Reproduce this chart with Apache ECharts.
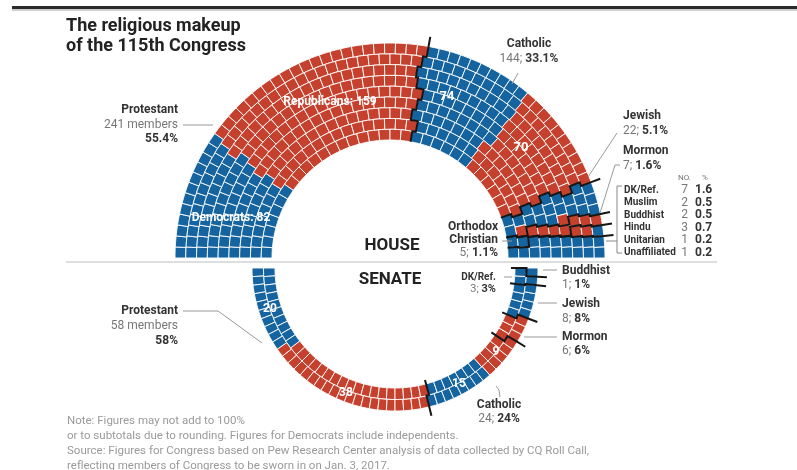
<!DOCTYPE html>
<html><head><meta charset="utf-8">
<script src="https://cdn.jsdelivr.net/npm/echarts@6/dist/echarts.min.js"></script>
<style>html,body{margin:0;padding:0;background:#fff}#c{width:797px;height:470px}</style>
</head><body><div id="c"></div><script>
// ---------- DATA ----------
const houseReligion = ['Protestant','Protestant','Catholic','Catholic','Jewish','Jewish','Mormon','Orthodox Christian','Orthodox Christian','Other'];
const houseParty    = ['D','R','D','R','D','R','R','R','D','D'];
const houseSeats    = [82,159,74,70,20,2,7,2,3,16];

const senateReligion = ['Protestant','Protestant','Catholic','Catholic','Mormon','Jewish','DK/Ref.','Buddhist'];
const senateParty    = ['D','R','D','R','R','D','D','D'];
const senateSeats    = [20,38,15,9,6,8,3,1];

const otherNames  = ['DK/Ref.','Muslim','Buddhist','Hindu','Unitarian','Unaffiliated'];
const otherCounts = ['7','2','2','3','1','1'];
const otherPct    = ['1.6','0.5','0.5','0.7','0.2','0.2'];

// ---------- LAYOUT ----------
const houseRingSeats  = [36,39,42,45,48,51,55,58,61];
const senateRingSeats = [48,52];
const BLUE = '#1564a0', RED = '#c6412d';

function layout(ringSeats, segSeats){
  const seats=[];
  ringSeats.forEach((n,ring)=>{for(let j=0;j<n;j++) seats.push({ring,j,n,mid:(j+0.5)/n});});
  seats.sort((a,b)=>a.mid-b.mid||a.ring-b.ring);
  let k=0; segSeats.forEach((c,s)=>{for(let i=0;i<c;i++) seats[k++].seg=s;});
  return seats;
}
function cells(seats, party){
  return seats.map(s=>[s.ring, 180*s.j/s.n, 180*(s.j+1)/s.n, party[s.seg]==='R'?1:0]);
}
function boundaries(seats, ringSeats, segSeats, religion, extOut, extIn){
  const paths=[]; let cum=0;
  const N=ringSeats.length;
  for(let s=0;s<segSeats.length-1;s++){
    cum+=segSeats[s];
    if(religion[s]===religion[s+1]) continue;
    const k=new Array(N).fill(0);
    for(let i=0;i<cum;i++) k[seats[i].ring]++;
    const a=k.map((v,i)=>180*v/ringSeats[i]);
    const pts=[[N+extOut,a[N-1]]];
    for(let i=N-1;i>=0;i--){
      pts.push([i+1,a[i]]); pts.push([i,a[i]]);
      if(i>0){ for(let t=1;t<=6;t++) pts.push([i, a[i]+(a[i-1]-a[i])*t/6]); }
    }
    pts.push([-extIn,a[0]]);
    paths.push(pts);
  }
  return paths;
}
const hSeats = layout(houseRingSeats, houseSeats);
const sSeats = layout(senateRingSeats, senateSeats);
const hCells = cells(hSeats, houseParty);
const sCells = cells(sSeats, senateParty);
const hPaths = boundaries(hSeats, houseRingSeats, houseSeats, houseReligion, 0.9, 0);
const sPaths = boundaries(sSeats, senateRingSeats, senateSeats, senateReligion, 0.8, 0.35);

function cellItem(params, api){
  const ring=api.value(0), a0=api.value(1), a1=api.value(2), p=api.value(3);
  const pts=[], st=4;
  for(let s=0;s<=st;s++) pts.push(api.coord([ring, a0+(a1-a0)*s/st]));
  for(let s=st;s>=0;s--) pts.push(api.coord([ring+1, a0+(a1-a0)*s/st]));
  return {type:'polygon', shape:{points:pts}, style:{fill:p?RED:BLUE, stroke:'#fff', lineWidth:0.9}};
}
function lineItemFor(paths){
  return function(params, api){
    const pts=paths[api.value(2)].map(p=>api.coord(p));
    return {type:'polyline', shape:{points:pts}, style:{stroke:'#151515', lineWidth:2, fill:null}};
  };
}

// ---------- TEXT ----------
const F='Roboto, "Liberation Sans", sans-serif';
function T(x,y,text,opt){
  opt=opt||{};
  const size=opt.size||12, w=opt.bold?'bold ':'';
  return {type:'text', x, y, silent:true, zlevel:1, z:20, style:{text, font:w+size+'px '+F, fill:opt.color||'#333',
    align:opt.align||'left', verticalAlign:'middle', textAlign:opt.align||'left', textVerticalAlign:'middle', rich:opt.rich}};
}
function R(x,y,a,b,align){
  return T(x,y,'{a|'+a+'}{b|'+b+'}',{align, rich:{a:{font:'12px '+F, fill:'#777'}, b:{font:'bold 12px '+F, fill:'#333'}}});
}
function L(points,color){return {type:'polyline', silent:true, zlevel:1, z:15, shape:{points}, style:{stroke:color||'#999', lineWidth:1, fill:null}};}

const g=[];
g.push({type:'rect', shape:{x:12,y:6,width:785,height:3}, style:{fill:'#2b2b2b'}, silent:true});
g.push({type:'rect', shape:{x:12,y:9,width:785,height:2}, style:{fill:'#cfcfcf'}, silent:true});
g.push(L([[66,262],[717,262]],'#bdbdbd'));
g.push(T(66,26,'The religious makeup',{bold:true,size:18,color:'#222'}));
g.push(T(66,46,'of the 115th Congress',{bold:true,size:18,color:'#222'}));
// House labels
g.push(T(178,110,'Protestant',{bold:true,align:'right'}));
g.push(T(178,125,'241 members',{align:'right',color:'#777'}));
g.push(T(178,139,'55.4%',{bold:true,align:'right'}));
g.push(L([[183,125],[213,125]]));
g.push(T(330,102,'Republicans: 159',{bold:true,color:'#fff',align:'center'}));
g.push(T(231,218,'Democrats: 82',{bold:true,color:'#fff',align:'center'}));
g.push(T(447,97,'74',{bold:true,size:13,color:'#fff',align:'center'}));
g.push(T(521,148,'70',{bold:true,size:13,color:'#fff',align:'center'}));
g.push(T(529,44,'Catholic',{bold:true,align:'center'}));
g.push(R(529,59,'144; ','33.1%','center'));
g.push(L([[518,73],[512,84]]));
g.push(T(623,116,'Jewish',{bold:true}));
g.push(R(623,131,'22; ','5.1%','left'));
g.push(L([[617,133],[588,177]]));
g.push(T(623,151,'Mormon',{bold:true}));
g.push(R(623,166,'7; ','1.6%','left'));
g.push(L([[620,165],[615,165],[600,213]]));
g.push(T(678,178,'NO.',{size:8,color:'#777'}));
g.push(T(702,178,'%',{size:8,color:'#777'}));
const rowY=[190,202.5,215,227.5,240,252.5];
otherNames.forEach((n,i)=>{
  g.push(T(624,rowY[i],n,{bold:true,size:10}));
  g.push(T(688,rowY[i],otherCounts[i],{align:'right',color:'#777'}));
  g.push(T(695,rowY[i],otherPct[i],{bold:true}));
});
g.push(L([[622,186],[617,186],[617,253],[622,253]],'#888'));
g.push(L([[606,241],[617,241]],'#888'));
g.push(T(498,227,'Orthodox',{bold:true,align:'right'}));
g.push(T(498,240,'Christian',{bold:true,align:'right'}));
g.push(R(498,253,'5; ','1.1%','right'));
g.push(L([[502,241],[512,241]]));
g.push(T(392,246,'HOUSE',{bold:true,size:17,color:'#222',align:'center'}));
g.push(T(390,280,'SENATE',{bold:true,size:17,color:'#222',align:'center'}));
// Senate labels
g.push(T(178,311,'Protestant',{bold:true,align:'right'}));
g.push(T(178,326,'58 members',{align:'right',color:'#777'}));
g.push(T(178,341,'58%',{bold:true,align:'right'}));
g.push(L([[183,311],[218,311],[262,343]]));
g.push(T(270,309,'20',{bold:true,size:12,color:'#fff',align:'center'}));
g.push(T(346,393,'38',{bold:true,size:12,color:'#fff',align:'center'}));
g.push(T(459,384,'15',{bold:true,size:12,color:'#fff',align:'center'}));
g.push(T(496,352,'9',{bold:true,size:12,color:'#fff',align:'center'}));
g.push(T(499,405,'Catholic',{bold:true,align:'center'}));
g.push(R(499,419,'24; ','24%','center'));
g.push(L([[496,386],[499,390],[500,397]]));
g.push(T(496,277,'DK/Ref.',{bold:true,size:10,align:'right'}));
g.push(T(496,289,'{a|3; }{b|3%}',{align:'right',rich:{a:{font:'11px '+F,fill:'#777'},b:{font:'bold 11px '+F,fill:'#333'}}}));
g.push(L([[504,277],[512,277]]));
g.push(T(562,271,'Buddhist',{bold:true}));
g.push(R(562,285,'1; ','1%','left'));
g.push(L([[543,270],[557,270]]));
g.push(T(562,304,'Jewish',{bold:true}));
g.push(R(562,319,'8; ','8%','left'));
g.push(L([[538,303],[557,303]]));
g.push(T(562,337,'Mormon',{bold:true}));
g.push(R(562,351,'6; ','6%','left'));
g.push(L([[524,337],[557,337]]));
// Notes
const noteLines=['Note: Figures may not add to 100%',
 'or to subtotals due to rounding. Figures for Democrats include independents.',
 'Source: Figures for Congress based on Pew Research Center analysis of data collected by CQ Roll Call,',
 'reflecting members of Congress to be sworn in on Jan. 3, 2017.'];
noteLines.forEach((t,i)=>g.push(T(67,421+i*15,t,{size:11.5,color:'#9a9a9a'})));

const chart=echarts.init(document.getElementById('c'),null,{renderer:'canvas'});
chart.setOption({
  animation:false,
  backgroundColor:'#fff',
  polar:[{center:[390,258], radius:[118,215]},{center:[395,268], radius:[120,143]}],
  angleAxis:[
    {polarIndex:0,type:'value',min:0,max:360,startAngle:180,clockwise:true,show:false},
    {polarIndex:1,type:'value',min:0,max:360,startAngle:180,clockwise:false,show:false}],
  radiusAxis:[
    {polarIndex:0,type:'value',min:0,max:houseRingSeats.length,show:false},
    {polarIndex:1,type:'value',min:0,max:senateRingSeats.length,show:false}],
  series:[
    {type:'custom',coordinateSystem:'polar',polarIndex:0,renderItem:cellItem,data:hCells,silent:true,z:2},
    {type:'custom',coordinateSystem:'polar',polarIndex:0,renderItem:lineItemFor(hPaths),data:hPaths.map((p,i)=>[0,0,i]),silent:true,z:5},
    {type:'custom',coordinateSystem:'polar',polarIndex:1,renderItem:cellItem,data:sCells,silent:true,z:2},
    {type:'custom',coordinateSystem:'polar',polarIndex:1,renderItem:lineItemFor(sPaths),data:sPaths.map((p,i)=>[0,0,i]),silent:true,z:5}
  ],
  graphic:g
});
</script></body></html>
